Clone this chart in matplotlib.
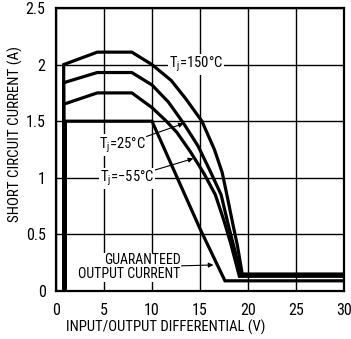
import matplotlib
matplotlib.use("Agg")
import matplotlib.pyplot as plt
from matplotlib import font_manager

flist = font_manager.fontManager.ttflist
names = {f.name for f in flist}
stretch = 'normal'
if 'Liberation Sans Narrow' in names:
    fam = ['Liberation Sans Narrow', 'DejaVu Sans']
elif 'Roboto Condensed' in names:
    fam = ['Roboto Condensed', 'DejaVu Sans']
elif any(f.name == 'DejaVu Sans' and str(f.stretch) in ('condensed', 'semi-condensed', '75', '87') for f in flist):
    fam = ['DejaVu Sans']
    stretch = 'condensed'
else:
    fam = ['Liberation Sans', 'DejaVu Sans']
plt.rcParams['font.family'] = fam
plt.rcParams['font.stretch'] = stretch
plt.rcParams['mathtext.fontset'] = 'custom'
plt.rcParams['mathtext.rm'] = fam[0]

# Data
x_150 = [0.8, 0.8, 4.3, 7.9, 10.0, 12.0, 13.5, 15.2, 16.5, 17.3, 17.8, 18.4, 18.9, 19.4, 30.0]
y_150 = [0.0, 2.0, 2.11, 2.11, 2.0, 1.86, 1.70, 1.5, 1.25, 1.05, 0.85, 0.6, 0.4, 0.15, 0.15]

x_25 = [0.8, 0.8, 4.3, 7.9, 10.0, 11.7, 13.3, 14.8, 16.0, 17.2, 17.9, 18.5, 19.3, 30.0]
y_25 = [0.0, 1.84, 1.93, 1.93, 1.82, 1.67, 1.48, 1.28, 1.07, 0.85, 0.6, 0.4, 0.14, 0.14]

x_m55 = [0.8, 0.8, 4.3, 7.9, 10.0, 11.5, 12.6, 14.0, 15.4, 16.6, 17.5, 18.2, 19.1, 30.0]
y_m55 = [0.0, 1.65, 1.75, 1.75, 1.62, 1.50, 1.40, 1.23, 1.04, 0.85, 0.62, 0.42, 0.13, 0.13]

x_guar = [0.98, 0.98, 10.0, 15.0, 17.6, 30.0]
y_guar = [0.0, 1.5, 1.5, 0.55, 0.09, 0.09]

x_ticks = [0, 5, 10, 15, 20, 25, 30]
y_ticks = [0, 0.5, 1, 1.5, 2, 2.5]
y_ticklabels = ['0', '0.5', '1', '1.5', '2', '2.5']

W, H = 351, 339
fig = plt.figure(figsize=(W/100, H/100), dpi=100)
ax = fig.add_axes([56/W, 1-291/H, (344-56)/W, (291-8)/H])

ax.set_xlim(0, 30)
ax.set_ylim(0, 2.5)
ax.set_xticks(x_ticks)
ax.set_yticks(y_ticks)
ax.set_yticklabels(y_ticklabels)
ax.grid(True, color='black', linewidth=1.0)
ax.tick_params(length=0, labelsize=11.5)
ax.tick_params(axis='x', pad=8.5)
ax.tick_params(axis='y', pad=7.5)
for s in ax.spines.values():
    s.set_linewidth(1.6)

lw = 2.3
for xs, ys in [(x_150, y_150), (x_25, y_25), (x_m55, y_m55), (x_guar, y_guar)]:
    ax.plot(xs, ys, color='black', linewidth=lw, solid_joinstyle='miter', zorder=3)

fig.text(166/W, 1-327/H, 'INPUT/OUTPUT DIFFERENTIAL (V)', fontsize=10.6, ha='center', va='center')
fig.text(15/W, 1-134/H, 'SHORT CIRCUIT CURRENT (A)', fontsize=10.8, ha='center', va='center', rotation=90)

fs = 10.5
bb = dict(facecolor='white', edgecolor='none', pad=0.5)
ap = dict(arrowstyle='-|>', color='black', lw=0.8, mutation_scale=7, shrinkA=0, shrinkB=0)
ax.text(14.6, 2.0, r'T$_\mathregular{j}$=150°C', fontsize=fs, ha='center', va='center', bbox=bb, zorder=2.5)
ax.annotate(r'T$_\mathregular{j}$=25°C', xy=(13.3, 1.48), xytext=(6.9, 1.29), fontsize=fs,
            ha='center', va='center', bbox=bb, zorder=2.5, arrowprops=ap)
ax.annotate(r'T$_\mathregular{j}$=$-$55°C', xy=(14.3, 1.17), xytext=(7.4, 0.995), fontsize=fs,
            ha='center', va='center', bbox=bb, zorder=2.5, arrowprops=ap)
ax.annotate('GUARANTEED\nOUTPUT CURRENT', xy=(16.4, 0.23), xytext=(13.0, 0.21), fontsize=10,
            ha='right', va='center', multialignment='right', linespacing=1.0, bbox=bb, zorder=2.5,
            arrowprops=ap)

fig.savefig('out.png', dpi=100)
